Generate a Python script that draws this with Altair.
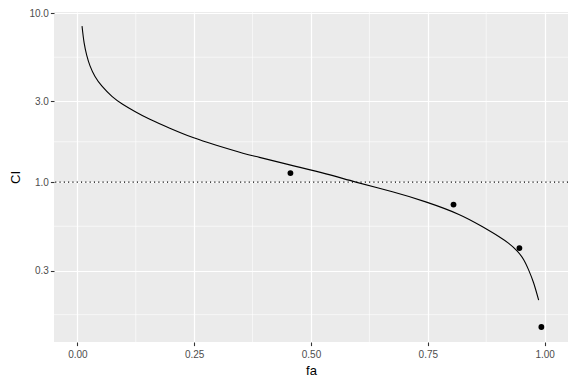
import altair as alt
import pandas as pd

# curve
curve_fa = [0.0100, 0.0143, 0.0201, 0.0271, 0.0378, 0.0527, 0.0740, 0.0969, 0.1231, 0.1551,
            0.1978, 0.2475, 0.2974, 0.3542, 0.3898, 0.4608, 0.5321, 0.5961, 0.6742,
            0.7455, 0.8165, 0.8662, 0.9018, 0.9232, 0.9409, 0.9552, 0.9659, 0.9765, 0.9872]
curve_ci = [8.36, 6.71, 5.62, 4.87, 4.21, 3.69, 3.214, 2.886, 2.616, 2.351,
            2.083, 1.833, 1.652, 1.483, 1.400, 1.252, 1.118, 1.000, 0.876,
            0.764, 0.644, 0.546, 0.477, 0.434, 0.392, 0.3475, 0.3016, 0.2532, 0.2006]

# observed points
pt_fa = [0.456, 0.805, 0.946, 0.993]
pt_ci = [1.13, 0.736, 0.407, 0.139]

ref_ci = [1.0]

x_ticks = [0.0, 0.25, 0.5, 0.75, 1.0]
y_ticks = [0.3, 1.0, 3.0, 10.0]
x_minor = [0.125, 0.375, 0.625, 0.875]
y_minor = [0.1644, 0.548, 1.732, 5.477]

curve_df = pd.DataFrame({"fa": curve_fa, "CI": curve_ci})
pts_df = pd.DataFrame({"fa": pt_fa, "CI": pt_ci})
ref_df = pd.DataFrame({"CI": ref_ci})
xm_df = pd.DataFrame({"fa": x_minor})
ym_df = pd.DataFrame({"CI": y_minor})

xscale = alt.Scale(domain=[-0.05, 1.05], nice=False, zero=False)
yscale = alt.Scale(type="log", domain=[0.1133, 10.14], nice=False)

xaxis = alt.Axis(values=x_ticks, format=".2f", title="fa", labelPadding=3.5, titlePadding=5)
yaxis = alt.Axis(values=y_ticks, format=".1f", title="CI", labelPadding=2, titlePadding=6)

X = lambda: alt.X("fa:Q", scale=xscale, axis=xaxis)
Y = lambda: alt.Y("CI:Q", scale=yscale, axis=yaxis)

minor_x = alt.Chart(xm_df).mark_rule(color="white", strokeWidth=0.6).encode(x=X())
minor_y = alt.Chart(ym_df).mark_rule(color="white", strokeWidth=0.6).encode(y=Y())

line = alt.Chart(curve_df).mark_line(color="black", strokeWidth=1.1, interpolate="natural").encode(x=X(), y=Y())
points = alt.Chart(pts_df).mark_circle(color="black", size=34, opacity=1).encode(x=X(), y=Y())
hline = alt.Chart(ref_df).mark_rule(color="black", strokeWidth=1.1, strokeDash=[1.1, 3.2]).encode(y=Y())

chart = alt.layer(minor_x, minor_y, hline, line, points).properties(
    width=514, height=330,
    autosize=alt.AutoSizeParams(type="none"),
    padding={"left": 46, "top": 4, "right": 0, "bottom": 35},
).configure_view(
    fill="#EBEBEB", stroke=None
).configure_axis(
    domain=False,
    grid=True,
    gridColor="white",
    gridWidth=1.2,
    tickColor="#333333",
    tickSize=3.6,
    tickWidth=1.1,
    labelColor="#4D4D4D",
    labelFont="Liberation Sans",
    labelFontSize=10,
    titleFont="Liberation Sans",
    titleFontSize=13,
    titleFontWeight="normal",
    titleColor="black",
)

chart.save("out.html", embed_options={"renderer": "svg", "actions": False})
